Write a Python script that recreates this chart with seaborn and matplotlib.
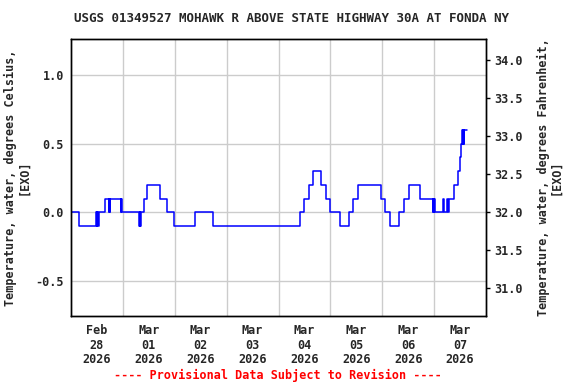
import pandas as pd
import matplotlib
matplotlib.use("Agg")
import matplotlib.pyplot as plt
import seaborn as sns

# change points: hours after 2026-02-28 00:00 and water temperature (deg C)
hours = [0, 3.75, 11.75, 12.0, 12.25, 12.5, 12.75, 15.5, 17.5, 17.75, 18.0, 18.25,
         23.0, 23.25, 23.5, 31.5, 31.75, 32.0, 32.25, 33.75, 35.25, 41.25, 44.5,
         47.5, 57.25, 65.5, 105.75, 108.0, 110.25, 112.0, 115.5, 117.75, 119.75,
         124.25, 128.75, 130.5, 132.75, 143.5, 145.25, 147.5, 151.75, 154.0,
         156.25, 161.5, 167.25, 167.5, 167.75, 168.0, 168.25, 172.25, 172.75,
         174.0, 174.25, 175.0, 177.25, 179.0, 179.75, 180.5, 181.0, 181.25,
         181.5, 181.75, 182.0, 183.25]
temps = [0.0, -0.1, 0.0, -0.1, 0.0, -0.1, 0.0, 0.1, 0.0, 0.1, 0.0, 0.1,
         0.0, 0.1, 0.0, -0.1, 0.0, -0.1, 0.0, 0.1, 0.2, 0.1, 0.0,
         -0.1, 0.0, -0.1, 0.0, 0.1, 0.2, 0.3, 0.2, 0.1, 0.0,
         -0.1, 0.0, 0.1, 0.2, 0.1, 0.0, -0.1, 0.0, 0.1,
         0.2, 0.1, 0.0, 0.1, 0.0, 0.1, 0.0, 0.1, 0.0,
         0.1, 0.0, 0.1, 0.2, 0.3, 0.4, 0.5, 0.6, 0.5,
         0.6, 0.5, 0.6, 0.6]

day_labels = ["Feb\n28\n2026", "Mar\n01\n2026", "Mar\n02\n2026", "Mar\n03\n2026",
              "Mar\n04\n2026", "Mar\n05\n2026", "Mar\n06\n2026", "Mar\n07\n2026"]
c_ticks = [-0.5, 0.0, 0.5, 1.0]
f_ticks = [31.0, 31.5, 32.0, 32.5, 33.0, 33.5, 34.0]

start = pd.Timestamp("2026-02-28")
df = pd.DataFrame({"time": start + pd.to_timedelta(hours, unit="h"), "temp": temps})

sns.set_style("white")
plt.rcParams["font.family"] = ["DejaVu Sans Mono"]
plt.rcParams["font.weight"] = "bold"
plt.rcParams["font.size"] = 8.5

fig = plt.figure(figsize=(5.76, 3.84), dpi=100)
ax = fig.add_axes([71 / 576, 1 - 316 / 384, 415 / 576, 277 / 384])

sns.lineplot(data=df, x="time", y="temp", ax=ax, color="#0000ff", lw=1.1,
             drawstyle="steps-post", estimator=None)

ylo, yhi = -0.757, 1.265
ax.set_ylim(ylo, yhi)
ax.set_xlim(start, start + pd.Timedelta(days=8))

midnights = [start + pd.Timedelta(days=d) for d in range(1, 8)]
noons = [start + pd.Timedelta(hours=12 + 24 * d) for d in range(8)]
ax.set_xticks(midnights)
ax.set_xticklabels([""] * len(midnights))
ax.set_xticks(noons, minor=True)
ax.set_xticklabels(day_labels, minor=True, fontweight="bold", linespacing=1.15)
ax.tick_params(axis="x", which="both", length=0, pad=6)
ax.set_yticks(c_ticks)
ax.set_yticklabels([f"{v:.1f}" for v in c_ticks], fontweight="bold")
ax.tick_params(axis="y", length=0, pad=5)
ax.grid(True, which="major", color="#cccccc", lw=1.0)
ax.set_xlabel("")
ax.set_ylabel("Temperature, water, degrees Celsius,\n[EXO]", fontweight="bold",
              linespacing=1.0)
ax.yaxis.set_label_coords(-0.099, 0.5)
for s in ax.spines.values():
    s.set_color("black")
    s.set_linewidth(1.0)

ax2 = ax.twinx()
ax2.set_ylim(ylo * 1.8 + 32, yhi * 1.8 + 32)
ax2.set_yticks(f_ticks)
ax2.set_yticklabels([f"{v:.1f}" for v in f_ticks], fontweight="bold")
ax2.tick_params(axis="y", length=3, width=1, color="black", pad=3)
ax2.set_ylabel("Temperature, water, degrees Fahrenheit,\n[EXO]", fontweight="bold",
               linespacing=1.0)
ax2.yaxis.set_label_coords(1.122, 0.5)
ax2.grid(False)
for s in ax2.spines.values():
    s.set_color("black")
    s.set_linewidth(1.0)

fig.text(291 / 576, 1 - 19 / 384, "USGS 01349527 MOHAWK R ABOVE STATE HIGHWAY 30A AT FONDA NY",
         ha="center", va="center", fontsize=9, fontweight="bold")
fig.text(278 / 576, 1 - 375 / 384, "---- Provisional Data Subject to Revision ----",
         ha="center", va="center", color="red", fontsize=8.5, fontweight="bold")

fig.savefig("out.png", dpi=100)
